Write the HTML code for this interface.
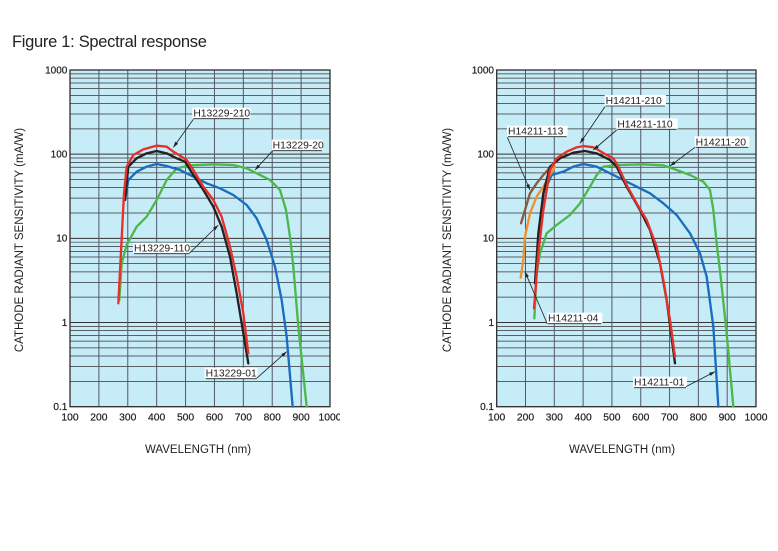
<!DOCTYPE html>
<html><head><meta charset="utf-8"><style>
body{margin:0;width:778px;height:551px;background:#fff;position:relative;overflow:hidden;font-family:"Liberation Sans",Arial,sans-serif}
.t{position:absolute;left:12px;top:33px;font-size:16.5px;color:#222;letter-spacing:-0.3px}
svg{position:absolute;top:60px}
.yt{position:absolute;font-size:11.5px;color:#222;white-space:nowrap;transform:rotate(-90deg);transform-origin:center}
.xt{position:absolute;font-size:11.5px;color:#222;top:444px}
</style></head><body>
<div class="t">Figure 1: Spectral response</div>
<div class="yt" style="left:-95px;top:234px;width:230px;text-align:center">CATHODE RADIANT SENSITIVITY (mA/W)</div>
<div class="yt" style="left:333px;top:234px;width:230px;text-align:center">CATHODE RADIANT SENSITIVITY (mA/W)</div>
<div class="xt" style="left:145px">WAVELENGTH (nm)</div>
<div class="xt" style="left:569px">WAVELENGTH (nm)</div>
<svg id="L" style="left:0" width="340" height="370" viewBox="0 0 1020 1110"></svg>
<svg id="R" style="left:430px" width="340" height="370" viewBox="0 0 1020 1110"></svg>
<script>
function chart(id,x0,x1,curves,labels,lx){
 var s='',top=30,bot=1040,dec=(bot-top)/4;
 s+='<rect x="'+x0+'" y="'+top+'" width="'+(x1-x0)+'" height="'+(bot-top)+'" fill="#c6ecf8"/>';
 for(var d=0;d<4;d++)for(var m=1;m<10;m++){var y=bot-dec*(d+Math.log10(m));s+='<line x1="'+x0+'" x2="'+x1+'" y1="'+y+'" y2="'+y+'" stroke="#333" stroke-width="'+(m==1?3:2.2)+'"/>';}
 var st=(x1-x0)/9;
 for(var i=1;i<9;i++){var x=x0+st*i;s+='<line x1="'+x+'" x2="'+x+'" y1="'+top+'" y2="'+bot+'" stroke="#556" stroke-width="3"/>';}
 s+='<rect x="'+x0+'" y="'+top+'" width="'+(x1-x0)+'" height="'+(bot-top)+'" fill="none" stroke="#333" stroke-width="4"/>';
 var yl=['0.1','1','10','100','1000'];
 for(var d=0;d<5;d++)s+='<text x="'+(x0-8)+'" y="'+(bot-dec*d+10)+'" font-size="30" text-anchor="end" fill="#222" stroke="#222" stroke-width="0.6">'+yl[d]+'</text>';
 for(var i=0;i<10;i++)s+='<text x="'+(x0+st*i)+'" y="1082" font-size="31" text-anchor="middle" fill="#222" stroke="#222" stroke-width="0.6">'+(100*(i+1))+'</text>';
 curves.forEach(function(c){s+='<path d="'+c[1]+'" fill="none" stroke="'+c[0]+'" stroke-width="7" stroke-linejoin="round" stroke-linecap="round"/>';});
 labels.forEach(function(l){var t=l[0],x=l[1],y=l[2],w=l[3];
  s+='<rect x="'+(x-3)+'" y="'+(y-27)+'" width="'+(w+6)+'" height="33" fill="#fff"/>';
  s+='<text x="'+x+'" y="'+y+'" font-size="31" fill="#222">'+t+'</text>';
  s+='<line x1="'+x+'" x2="'+(x+w)+'" y1="'+(y+6)+'" y2="'+(y+6)+'" stroke="#222" stroke-width="2.5"/>';
  var ax=l[4],ay=l[5],bx=l[6],by=l[7];
  s+='<line x1="'+ax+'" y1="'+ay+'" x2="'+bx+'" y2="'+by+'" stroke="#222" stroke-width="2.5"/>';
  var a=Math.atan2(by-ay,bx-ax),L=18;
  s+='<polygon points="'+bx+','+by+' '+(bx-L*Math.cos(a-0.3))+','+(by-L*Math.sin(a-0.3))+' '+(bx-L*Math.cos(a+0.3))+','+(by-L*Math.sin(a+0.3))+'" fill="#222"/>';
 });
 document.getElementById(id).innerHTML=s;
}
var G='#4cb84a',B='#1a6cc0';
chart('L',210,990,[
[G,'M358,720 L365,610 L380,555 L410,500 L440,470 L470,420 L500,360 L530,325 L570,316 L640,313 L700,315 L740,325 L770,340 L810,360 L840,390 L858,450 L870,530 L880,620 L895,800 L920,1040'],
[B,'M375,420 L385,360 L410,335 L440,320 L470,312 L500,318 L540,330 L580,350 L620,370 L660,385 L700,405 L740,435 L770,475 L800,540 L825,620 L845,720 L860,830 L878,1040'],
['#222','M375,420 L385,320 L410,295 L440,280 L470,273 L500,280 L530,295 L555,305 L580,345 L610,390 L640,440 L665,500 L690,590 L710,700 L730,820 L745,910'],
['#e8302a','M355,730 L372,400 L380,320 L400,285 L430,268 L470,257 L500,260 L520,275 L545,290 L560,300 L580,330 L610,380 L640,420 L665,470 L690,560 L710,650 L730,760 L745,880']
],[
['H13229-210',580,170,168,580,178,520,262],
['H13229-20',818,266,148,818,272,765,330],
['H13229-110',402,575,166,568,580,655,495],
['H13229-01',617,950,153,770,955,860,875]
]);
chart('R',200,978,[
[G,'M313,775 L320,640 L330,580 L350,520 L380,495 L420,465 L450,430 L480,380 L500,345 L520,320 L560,315 L640,313 L700,316 L740,330 L780,345 L820,365 L840,390 L850,450 L860,550 L872,650 L890,820 L910,1040'],
[B,'M315,670 L325,560 L340,400 L365,345 L400,335 L430,320 L460,312 L500,320 L540,340 L580,360 L620,380 L660,400 L700,430 L740,465 L780,520 L810,580 L830,650 L850,800 L865,1040'],
['#f0922a','M272,653 L280,600 L285,530 L300,460 L320,410 L340,380 L360,345 L375,320'],
['#8a5a3a','M273,490 L285,450 L300,400 L320,370 L340,345 L360,322 L370,315'],
['#222','M315,670 L325,520 L340,400 L360,320 L390,295 L430,278 L465,273 L500,280 L540,300 L560,320 L590,380 L630,450 L660,510 L690,610 L710,720 L735,910'],
['#e8302a','M312,745 L325,580 L340,450 L360,330 L380,295 L410,275 L440,262 L460,258 L490,262 L505,270 L530,285 L550,295 L565,320 L590,375 L620,430 L650,480 L680,560 L700,660 L720,780 L735,890']
],[
['H14211-210',527,132,178,525,140,450,250],
['H14211-110',562,202,178,560,210,490,270],
['H14211-113',234,224,176,232,232,300,390],
['H14211-20',797,256,158,795,262,720,318],
['H14211-04',354,785,160,352,792,285,635],
['H14211-01',612,977,156,768,980,855,935]
]);
</script>
</body></html>
